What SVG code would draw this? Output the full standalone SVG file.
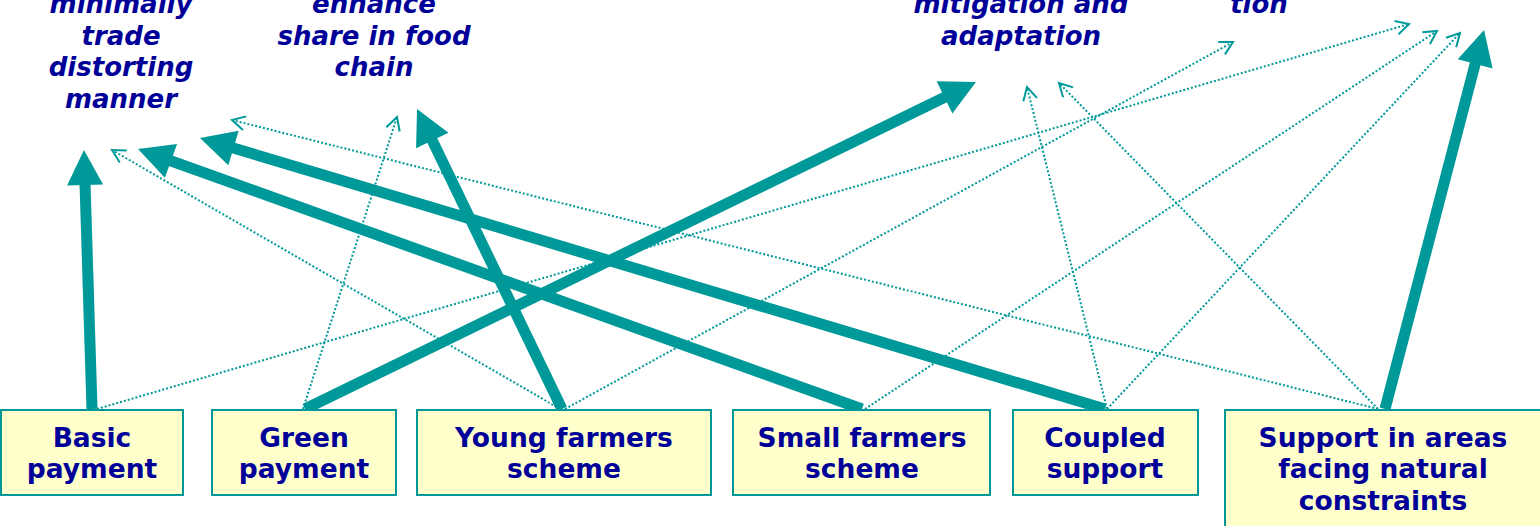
<svg xmlns="http://www.w3.org/2000/svg" width="1540" height="526" viewBox="0 0 1540 526">
<style>
.goal{font-family:"DejaVu Sans","Verdana",sans-serif;font-weight:bold;font-style:italic;font-size:26px;fill:#000099;text-anchor:middle}
.box rect{fill:#FFFFCC;stroke:#009999;stroke-width:2}
.box text{font-family:"DejaVu Sans","Verdana",sans-serif;font-weight:bold;font-size:26.5px;fill:#000099;text-anchor:middle}
.thick{stroke:#009999;stroke-width:11;fill:none}
.dot{stroke:#009999;stroke-width:2;stroke-dasharray:2 2;fill:none}
</style>
<defs>
<marker id="big" markerUnits="userSpaceOnUse" orient="auto" markerWidth="40" markerHeight="40" refX="2" refY="0" viewBox="0 -20 40 40" overflow="visible">
<path d="M0,-18 L35,0 L0,18 Z" fill="#009999"/>
</marker>
<marker id="open" markerUnits="userSpaceOnUse" orient="auto" markerWidth="20" markerHeight="20" refX="0" refY="0" viewBox="-15 -10 20 20" overflow="visible">
<path d="M-13,-7 L0,0 L-13,7" fill="none" stroke="#009999" stroke-width="2"/>
</marker>
</defs>

<g id="goal-trade">
<text class="goal" x="121" y="13">minimally</text>
<text class="goal" x="121" y="45">trade</text>
<text class="goal" x="121" y="76">distorting</text>
<text class="goal" x="121" y="108">manner</text>
</g>
<g id="goal-food">
<text class="goal" x="374" y="13">enhance</text>
<text class="goal" x="374" y="45">share in food</text>
<text class="goal" x="374" y="76">chain</text>
</g>
<g id="goal-climate">
<text class="goal" x="1021" y="13">mitigation and</text>
<text class="goal" x="1021" y="45">adaptation</text>
</g>
<g id="goal-tion">
<text class="goal" x="1259" y="13">tion</text>
</g>

<g id="connectors">
<line class="dot" x1="97" y1="409" x2="1409" y2="24" marker-end="url(#open)"/>
<line class="dot" x1="303" y1="409" x2="397" y2="117" marker-end="url(#open)"/>
<line class="dot" x1="560" y1="409" x2="112" y2="150" marker-end="url(#open)"/>
<line class="dot" x1="565" y1="409" x2="1233" y2="42" marker-end="url(#open)"/>
<line class="dot" x1="865" y1="409" x2="1437" y2="31" marker-end="url(#open)"/>
<line class="dot" x1="1107" y1="409" x2="1027" y2="87" marker-end="url(#open)"/>
<line class="dot" x1="1107" y1="409" x2="1460" y2="33" marker-end="url(#open)"/>
<line class="dot" x1="1378" y1="409" x2="232" y2="120" marker-end="url(#open)"/>
<line class="dot" x1="1378" y1="409" x2="1059" y2="83" marker-end="url(#open)"/>

<line class="thick" x1="92" y1="409" x2="85.0" y2="183.0" marker-end="url(#big)"/>
<line class="thick" x1="305" y1="409" x2="946.3" y2="96.5" marker-end="url(#big)"/>
<line class="thick" x1="562" y1="409" x2="431.4" y2="138.7" marker-end="url(#big)"/>
<line class="thick" x1="862" y1="409" x2="169.1" y2="160.2" marker-end="url(#big)"/>
<line class="thick" x1="1105" y1="409" x2="231.6" y2="147.5" marker-end="url(#big)"/>
<line class="thick" x1="1385" y1="409" x2="1475.7" y2="61.9" marker-end="url(#big)"/>
</g>

<g id="basic" class="box">
<rect x="1" y="410" width="182" height="85"/>
<text x="92" y="447">Basic</text>
<text x="92" y="478">payment</text>
</g>
<g id="green" class="box">
<rect x="212" y="410" width="184" height="85"/>
<text x="304" y="447">Green</text>
<text x="304" y="478">payment</text>
</g>
<g id="young" class="box">
<rect x="417" y="410" width="294" height="85"/>
<text x="564" y="447">Young farmers</text>
<text x="564" y="478">scheme</text>
</g>
<g id="small" class="box">
<rect x="733" y="410" width="257" height="85"/>
<text x="862" y="447">Small farmers</text>
<text x="862" y="478">scheme</text>
</g>
<g id="coupled" class="box">
<rect x="1013" y="410" width="185" height="85"/>
<text x="1105" y="447">Coupled</text>
<text x="1105" y="478">support</text>
</g>
<g id="anc" class="box">
<rect x="1225" y="410" width="330" height="130"/>
<text x="1383" y="447">Support in areas</text>
<text x="1383" y="478">facing natural</text>
<text x="1383" y="510">constraints</text>
</g>
</svg>
